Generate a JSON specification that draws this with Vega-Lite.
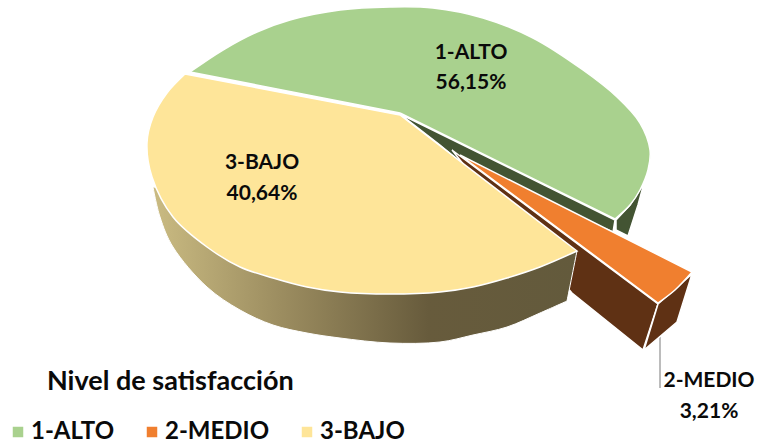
{
"$schema":"https://vega.github.io/schema/vega-lite/v6.json",
"width":757,"height":445,
"autosize":{"type":"fit","contains":"padding"},
"padding":0,
"background":"white",
"config":{"view":{"stroke":null},"font":"Lato"},
"datasets":{
"leader":[{"x":260,"y":-224},{"x":260,"y":-275}],
"walls":[
{"part":"greenCut","i":0,"x":0,"y":-1},{"part":"greenCut","i":1,"x":215,"y":-107},{"part":"greenCut","i":2,"x":213,"y":-119},{"part":"greenCut","i":3,"x":70,"y":-57},{"part":"greenCut","i":4,"x":40,"y":-32},{"part":"greenCut","i":5,"x":0,"y":-1},
{"part":"greenOuter","i":0,"x":244,"y":-70},{"part":"greenOuter","i":1,"x":238,"y":-92},{"part":"greenOuter","i":2,"x":228,"y":-123},{"part":"greenOuter","i":3,"x":216,"y":-117},{"part":"greenOuter","i":4,"x":216,"y":-107},{"part":"greenOuter","i":5,"x":230,"y":-92},{"part":"greenOuter","i":6,"x":244,"y":-70}
],
"brown":[
{"part":"side","i":0,"x":52,"y":-37},{"part":"side","i":1,"x":258,"y":-191},{"part":"side","i":2,"x":243,"y":-237},{"part":"side","i":3,"x":172,"y":-180},{"part":"side","i":4,"x":80,"y":-72},{"part":"side","i":5,"x":52,"y":-37},
{"part":"end","i":0,"x":292,"y":-161},{"part":"end","i":1,"x":277,"y":-209},{"part":"end","i":2,"x":244,"y":-237},{"part":"end","i":3,"x":258,"y":-191},{"part":"end","i":4,"x":292,"y":-161}
],
"yellowWall":[
{"i":0,"x":-247,"y":-74},{"i":1,"x":-247,"y":-74},{"i":2,"x":-240,"y":-104},{"i":3,"x":-227,"y":-134},{"i":4,"x":-193,"y":-174},{"i":5,"x":-160,"y":-197},{"i":6,"x":-127,"y":-212},{"i":7,"x":-93,"y":-220},{"i":8,"x":-60,"y":-225},{"i":9,"x":-10,"y":-230},{"i":10,"x":40,"y":-229},{"i":11,"x":73,"y":-222},{"i":12,"x":107,"y":-214},{"i":13,"x":140,"y":-200},{"i":14,"x":167,"y":-188},{"i":15,"x":167,"y":-188},{"i":16,"x":177,"y":-138},{"i":17,"x":177,"y":-138},{"i":18,"x":-247,"y":-74},{"i":19,"x":-247,"y":-74}
],
"tops":[
{"slice":"3-BAJO","i":0,"x":0,"y":-2},{"slice":"3-BAJO","i":1,"x":0,"y":-2},{"slice":"3-BAJO","i":2,"x":-215,"y":39},{"slice":"3-BAJO","i":3,"x":-215,"y":39},{"slice":"3-BAJO","i":4,"x":-233,"y":20},{"slice":"3-BAJO","i":5,"x":-247,"y":-4},{"slice":"3-BAJO","i":6,"x":-253,"y":-30},{"slice":"3-BAJO","i":7,"x":-248,"y":-64},{"slice":"3-BAJO","i":8,"x":-227,"y":-104},{"slice":"3-BAJO","i":9,"x":-193,"y":-134},{"slice":"3-BAJO","i":10,"x":-160,"y":-154},{"slice":"3-BAJO","i":11,"x":-127,"y":-165},{"slice":"3-BAJO","i":12,"x":-93,"y":-174},{"slice":"3-BAJO","i":13,"x":-60,"y":-179},{"slice":"3-BAJO","i":14,"x":-10,"y":-181},{"slice":"3-BAJO","i":15,"x":40,"y":-179},{"slice":"3-BAJO","i":16,"x":73,"y":-174},{"slice":"3-BAJO","i":17,"x":107,"y":-165},{"slice":"3-BAJO","i":18,"x":140,"y":-154},{"slice":"3-BAJO","i":19,"x":177,"y":-138},{"slice":"3-BAJO","i":20,"x":177,"y":-138},{"slice":"3-BAJO","i":21,"x":0,"y":-2},{"slice":"3-BAJO","i":22,"x":0,"y":-2},
{"slice":"1-ALTO","i":0,"x":0,"y":0},{"slice":"1-ALTO","i":1,"x":0,"y":0},{"slice":"1-ALTO","i":2,"x":-210,"y":41},{"slice":"1-ALTO","i":3,"x":-210,"y":41},{"slice":"1-ALTO","i":4,"x":-177,"y":63},{"slice":"1-ALTO","i":5,"x":-143,"y":81},{"slice":"1-ALTO","i":6,"x":-110,"y":93},{"slice":"1-ALTO","i":7,"x":-60,"y":103},{"slice":"1-ALTO","i":8,"x":-10,"y":106},{"slice":"1-ALTO","i":9,"x":33,"y":105},{"slice":"1-ALTO","i":10,"x":83,"y":95},{"slice":"1-ALTO","i":11,"x":133,"y":75},{"slice":"1-ALTO","i":12,"x":183,"y":43},{"slice":"1-ALTO","i":13,"x":217,"y":16},{"slice":"1-ALTO","i":14,"x":240,"y":-10},{"slice":"1-ALTO","i":15,"x":250,"y":-37},{"slice":"1-ALTO","i":16,"x":248,"y":-57},{"slice":"1-ALTO","i":17,"x":240,"y":-77},{"slice":"1-ALTO","i":18,"x":230,"y":-92},{"slice":"1-ALTO","i":19,"x":215,"y":-106},{"slice":"1-ALTO","i":20,"x":215,"y":-106},{"slice":"1-ALTO","i":21,"x":0,"y":0},{"slice":"1-ALTO","i":22,"x":0,"y":0},
{"slice":"2-MEDIO","i":0,"x":60,"y":-42},{"slice":"2-MEDIO","i":1,"x":60,"y":-42},{"slice":"2-MEDIO","i":2,"x":292,"y":-159},{"slice":"2-MEDIO","i":3,"x":292,"y":-159},{"slice":"2-MEDIO","i":4,"x":275,"y":-177},{"slice":"2-MEDIO","i":5,"x":258,"y":-190},{"slice":"2-MEDIO","i":6,"x":258,"y":-190},{"slice":"2-MEDIO","i":7,"x":60,"y":-42},{"slice":"2-MEDIO","i":8,"x":60,"y":-42}
],
"labels":[
{"t":"1-ALTO","x":71,"y":60},{"t":"56,15%","x":71,"y":30},
{"t":"3-BAJO","x":-138,"y":-50},{"t":"40,64%","x":-138,"y":-81},
{"t":"2-MEDIO","x":309,"y":-268},{"t":"3,21%","x":309,"y":-299}
],
"heading":[{"t":"Nivel de satisfacción","x":-353,"y":-269}]
},
"encoding":{
"x":{"field":"x","type":"quantitative","axis":null,"scale":{"domain":[-400,357],"nice":false,"zero":false}},
"y":{"field":"y","type":"quantitative","axis":null,"scale":{"domain":[-332,113],"nice":false,"zero":false}}
},
"layer":[
{"data":{"name":"leader"},"mark":{"type":"line","stroke":"#a6a6a6","strokeWidth":1.5}},
{"data":{"name":"walls"},"mark":{"type":"line","fill":"#435433","stroke":"white","strokeWidth":1.5},"encoding":{"detail":{"field":"part"},"order":{"field":"i"}}},
{"data":{"name":"brown"},"mark":{"type":"line","fill":"#5f3114","stroke":"white","strokeWidth":1.5},"encoding":{"detail":{"field":"part"},"order":{"field":"i"}}},
{"data":{"name":"yellowWall"},"mark":{"type":"line","interpolate":"catmull-rom","stroke":"white","strokeWidth":1,"fill":{"gradient":"linear","x1":0,"y1":0,"x2":1,"y2":0,"stops":[{"offset":0,"color":"#cabb82"},{"offset":0.3,"color":"#9c8d60"},{"offset":0.65,"color":"#675b3c"},{"offset":1,"color":"#635a3c"}]}},"encoding":{"order":{"field":"i"}}},
{"data":{"name":"tops"},"mark":{"type":"line","interpolate":"catmull-rom","stroke":"white","strokeWidth":1.5},
"encoding":{"detail":{"field":"slice"},"order":{"field":"i"},
"fill":{"field":"slice","type":"nominal","scale":{"domain":["1-ALTO","2-MEDIO","3-BAJO"],"range":["#a9d18e","#f07f2f","#fee599"]},
"legend":{"orient":"none","legendX":6,"legendY":420,"direction":"horizontal","title":null,"symbolType":"square","symbolSize":110,"symbolStrokeWidth":0,"labelFont":"Lato","labelFontWeight":"bold","labelFontSize":24,"labelColor":"#0a0a0a","labelOffset":1,"columnPadding":25,"labelLimit":200,"symbolOpacity":1}}}},
{"data":{"name":"labels"},"mark":{"type":"text","font":"Lato","fontWeight":"bold","fontSize":21,"color":"#0a0a0a","align":"center","baseline":"middle"},"encoding":{"text":{"field":"t"}}},
{"data":{"name":"heading"},"mark":{"type":"text","font":"Lato","fontWeight":"bold","fontSize":27,"color":"#0a0a0a","align":"left","baseline":"middle"},"encoding":{"text":{"field":"t"}}}
]
}
